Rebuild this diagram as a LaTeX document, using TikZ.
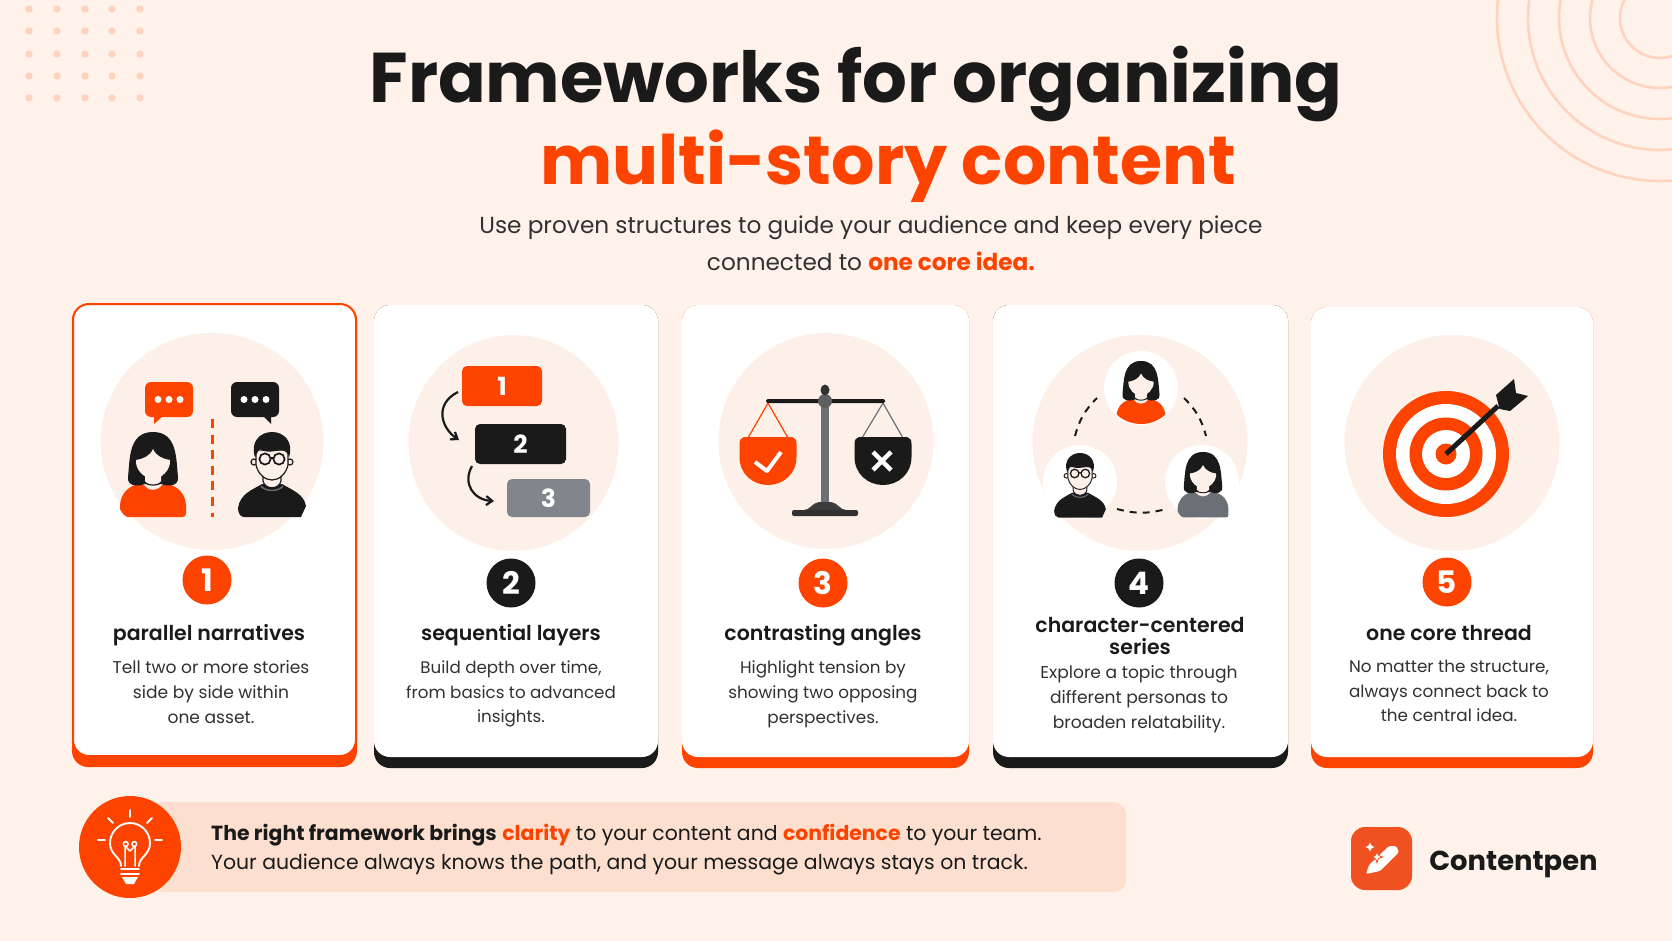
\documentclass[tikz,border=0pt]{standalone}
\usepackage{fontspec}
\setmainfont{Poppins}
\newfontfamily\semifont{Poppins}[UprightFont=* SemiBold]
\usetikzlibrary{arrows.meta,positioning,shapes.geometric}

\definecolor{paper}{HTML}{FEF2EA}
\definecolor{disc}{HTML}{FDF0E8}
\definecolor{accent}{HTML}{FC4300}
\definecolor{ink}{HTML}{1A1A1A}
\definecolor{slate}{HTML}{80868C}
\definecolor{graybody}{HTML}{6B7076}
\definecolor{deco}{HTML}{FFD3BE}
\definecolor{barfill}{HTML}{FDDFD0}
\definecolor{logofill}{HTML}{EF5220}

% person with long hair: x, y of the hair top, scale, shirt colour
\newcommand{\womanicon}[4]{
	\begin{scope}[shift={(#1,#2)}, scale=#3]
		\fill[#4] (-33,73) .. controls (-32,62) and (-26,56) .. (-18,53) -- (18,53) .. controls (26,56) and (32,62) .. (33,73) -- (33,81) .. controls (33,84) and (32,85) .. (29,85) -- (-25,85) .. controls (-28,85) and (-31,81) .. (-33,77) -- cycle;
		\fill[disc] (-10,51) .. controls (-6,60) and (6,60) .. (10,51) -- cycle;
		\fill[ink] (-25,45) .. controls (-23,28) and (-25,0) .. (0,0) .. controls (25,0) and (23,28) .. (25,45) .. controls (26,54) and (16,55) .. (8,52) -- (-8,52) .. controls (-16,55) and (-26,54) .. (-25,45) -- cycle;
		\fill[disc] (-8,38) -- (8,38) -- (8,50) .. controls (6,54) and (-6,54) .. (-8,50) -- cycle;
		\draw[ink, line width=#3*1.2pt] (-8,50) .. controls (-6,54) and (6,54) .. (8,50);
		\fill[disc] (-17,28) .. controls (-10,27) and (-3,24) .. (0,17) .. controls (3,24) and (10,27) .. (17,28) .. controls (18,38) and (8,47) .. (0,47) .. controls (-8,47) and (-18,38) .. (-17,28) -- cycle;
	\end{scope}
}
% person with short hair and glasses: x, y of the hair top, scale
\newcommand{\manicon}[3]{
	\begin{scope}[shift={(#1,#2)}, scale=#3]
		\fill[ink] (-34,76) .. controls (-32,62) and (-20,58) .. (-10,52) -- (10,52) .. controls (20,58) and (32,62) .. (34,74) -- (29,85) -- (-28,85) .. controls (-31,85) and (-34,82) .. (-34,76) -- cycle;
		\draw[graybody, line width=#3*1.4pt] (-11,54) .. controls (-6,60) and (6,60) .. (11,54);
		\filldraw[fill=disc, draw=ink, line width=#3*1.2pt] (-9,40) -- (-9,49) .. controls (-7,58) and (7,58) .. (9,49) -- (9,40);
		\filldraw[fill=disc, draw=ink, line width=#3*1.2pt] (-18,30) circle (3);
		\filldraw[fill=disc, draw=ink, line width=#3*1.2pt] (18,30) circle (3);
		\filldraw[fill=disc, draw=ink, line width=#3*1.2pt] (-16,18) -- (-16,33) .. controls (-14,42) and (-7,48) .. (0,48) .. controls (7,48) and (14,42) .. (16,33) -- (16,18) -- cycle;
		\fill[ink] (-17,25) .. controls (-22,10) and (-12,0) .. (0,0) .. controls (12,0) and (22,10) .. (17,25) .. controls (15,18) and (10,17) .. (4,19) .. controls (-2,20) and (-9,20) .. (-12,17) .. controls (-15,20) and (-15,22) .. (-17,25) -- cycle;
		\draw[ink, line width=#3*1.7pt] (-7,27) circle (5.6);
		\draw[ink, line width=#3*1.7pt] (7,27) circle (5.6);
		\draw[ink, line width=#3*1.7pt] (-1.4,26) -- (1.4,26);
	\end{scope}
}
% scale pan hanging from its top centre
\newcommand{\panshape}[3]{
	\fill[#3, shift={(#1,#2)}] (-24,0) -- (24,0) .. controls (27,0.5) and (28.5,3) .. (28.5,7) -- (28.5,20) .. controls (28.5,37) and (15,48) .. (0,48) .. controls (-15,48) and (-28.5,37) .. (-28.5,20) -- (-28.5,7) .. controls (-28.5,3) and (-27,0.5) .. (-24,0) -- cycle;
}
% four-pointed star of the logo
\newcommand{\sparkle}[3]{
	\filldraw[fill=white, draw=logofill, line width=.8pt, shift={(#1,#2)}, scale=#3] (0,-1) .. controls (.15,-.25) and (.25,-.15) .. (1,0) .. controls (.25,.15) and (.15,.25) .. (0,1) .. controls (-.15,.25) and (-.25,.15) .. (-1,0) .. controls (-.25,-.15) and (-.15,-.25) .. (0,-1) -- cycle;
}

\begin{document}
\begin{tikzpicture}[x=1pt, y=-1pt]
	\tikzstyle{headline}=[inner sep=0, text=ink, font=\fontsize{70.4}{76}\selectfont\bfseries]
	\tikzstyle{intro}=[inner sep=0, text=ink!90, font=\fontsize{23.2}{30}\selectfont]
	\tikzstyle{cardbase}=[rectangle, rounded corners=16pt, minimum width=285pt, minimum height=463pt, inner sep=0]
	\tikzstyle{cardface}=[rectangle, rounded corners=16pt, fill=white, minimum width=285pt, minimum height=452pt, inner sep=0]
	\tikzstyle{disc}=[ellipse, fill=disc, minimum width=215pt, minimum height=216pt, inner sep=0]
	\tikzstyle{badge}=[circle, minimum size=49pt, inner sep=0, text=white, font=\fontsize{31}{31}\selectfont\bfseries]
	\tikzstyle{cardtitle}=[inner sep=0, align=center, text=ink, font=\fontsize{20.5}{22}\semifont]
	\tikzstyle{cardtext}=[inner sep=0, align=center, text=ink!90, font=\fontsize{17.1}{24.8}\selectfont]
	\tikzstyle{bubble}=[rectangle, rounded corners=6pt, minimum width=48pt, minimum height=35pt, inner sep=0]
	\tikzstyle{bubbledot}=[circle, fill=white, minimum size=7pt, inner sep=0]
	\tikzstyle{layer}=[rectangle, rounded corners=5pt, inner sep=0, text=white, font=\fontsize{25}{25}\selectfont\bfseries]
	\tikzstyle{connect}=[ink, line width=2.2pt, -{Straight Barb[length=6pt,width=9pt]}]
	\tikzstyle{ring}=[circle, inner sep=0]
	\tikzstyle{whitespot}=[circle, fill=white, minimum size=74pt, inner sep=0]
	\tikzstyle{dashline}=[ink, line width=2pt, dash pattern=on 7pt off 6pt]
	\tikzstyle{bulbline}=[white, line width=1.9pt, line cap=round, line join=round]
	\tikzstyle{foot}=[inner sep=0, anchor=base west, text=ink, font=\fontsize{20.4}{24}\selectfont]

	\useasboundingbox (0,0) rectangle (1672,941);
	\fill[paper] (0,0) rectangle (1672,941);

	% corner decoration
	\foreach \dotx in {29,57,85,112,140}
		\foreach \doty in {9,31,54,76,98}
			\fill[deco] (\dotx,\doty) circle (3.7);
	\draw[deco, line width=2.6pt] (1660,18) circle (40);
	\draw[deco, line width=2.6pt] (1660,18) circle (70);
	\draw[deco, line width=2.6pt] (1660,18) circle (101);
	\draw[deco, line width=2.6pt] (1660,18) circle (132);
	\draw[deco, line width=2.6pt] (1660,18) circle (163);

	% heading
	\node[headline] (title1) at (856,84) {Frameworks for organizing};
	\node[headline, text=accent, font=\fontsize{68.2}{76}\selectfont\bfseries] (title2) at (888,166.5) {multi-story content};
	\node[intro] (sub1) at (871,228) {Use proven structures to guide your audience and keep every piece};
	\node[intro] (sub2) at (871,261) {connected to {\color{accent}\bfseries one core idea.}};

	% cards
	\node[cardbase, fill=accent] (base1) at (214.5,535.5) {};
	\node[cardface, draw=accent, line width=2pt, minimum width=283pt] (card1) at (214.5,530) {};
	\node[cardbase, fill=ink, minimum width=284pt] (base2) at (516,536.5) {};
	\node[cardface, minimum width=284pt] (card2) at (516,531) {};
	\node[cardbase, fill=accent, minimum width=287pt] (base3) at (825.5,536.5) {};
	\node[cardface, minimum width=287pt] (card3) at (825.5,531) {};
	\node[cardbase, fill=ink, minimum width=295pt] (base4) at (1140.5,536.5) {};
	\node[cardface, minimum width=295pt] (card4) at (1140.5,531) {};
	\node[cardbase, fill=accent, minimum width=282pt, minimum height=461pt] (base5) at (1452,537.5) {};
	\node[cardface, minimum width=282pt, minimum height=450pt] (card5) at (1452,532) {};

	\node[disc, minimum width=223pt, minimum height=217pt] (disc1) at (212,441.5) {};
	\node[disc, minimum width=210pt] (disc2) at (513.5,443) {};
	\node[disc] (disc3) at (826,441) {};
	\node[disc] (disc4) at (1140,443) {};
	\node[disc] (disc5) at (1452,443) {};

	% two people side by side
	\node[bubble, fill=accent] (bubble1) at (169,399.5) {};
	\node[bubble, fill=ink] (bubble2) at (255,399.5) {};
	\fill[accent] (154,416) -- (154,424) -- (163,416) -- cycle;
	\fill[ink] (263,416) -- (271,424) -- (271,416) -- cycle;
	\node[bubbledot] (d1) at (158,399.5) {};
	\node[bubbledot] (d2) at (169,399.5) {};
	\node[bubbledot] (d3) at (180,399.5) {};
	\node[bubbledot] (d4) at (244,399.5) {};
	\node[bubbledot] (d5) at (255,399.5) {};
	\node[bubbledot] (d6) at (266,399.5) {};
	\coordinate (split1) at (212,419);
	\coordinate (split2) at (212,517);
	\draw[accent, line width=3pt, dash pattern=on 9pt off 6.6pt] (split1) -- (split2);
	\womanicon{153}{432}{1}{accent}
	\manicon{272}{432}{1}

	% numbered layers
	\node[layer, fill=accent, minimum width=80pt, minimum height=40pt] (layer1) at (502,386) {1};
	\node[layer, fill=ink, minimum width=91pt, minimum height=40pt] (layer2) at (520.5,444) {2};
	\node[layer, fill=slate, minimum width=83pt, minimum height=38pt] (layer3) at (548.5,498) {3};
	\coordinate (from1) at (458,392);
	\coordinate (to1) at (459,440);
	\coordinate (from2) at (472,466);
	\coordinate (to2) at (494,501);
	\draw[connect] (from1) .. controls (434,404) and (441,428) .. (to1);
	\draw[connect] (from2) .. controls (462,484) and (474,500) .. (to2);

	% balance
	\draw[accent, line width=1.2pt] (748,438) -- (768,403) -- (788,438);
	\draw[graybody, line width=1.2pt] (862,438) -- (883,403) -- (903,438);
	\fill[graybody] (821,400) rectangle (829,503);
	\fill[ink!85] (804,510) .. controls (810,510) and (812,503) .. (819,502) -- (831,502) .. controls (838,503) and (840,510) .. (846,510) -- cycle;
	\fill[ink!90, rounded corners=2pt] (792,510) rectangle (858,516);
	\fill[ink, rounded corners=1.5pt] (766,399) rectangle (885,403);
	\fill[ink!70] (825,401) circle (7);
	\fill[ink!90] (825,390) ellipse (4.5 and 5.5);
	\panshape{768}{437}{accent}
	\panshape{883}{437}{ink}
	\draw[white, line width=4pt, line join=round] (755,462) -- (767,471) -- (781,452);
	\draw[white, line width=4.5pt] (873,452) -- (891,470);
	\draw[white, line width=4.5pt] (891,452) -- (873,470);

	% three people around a circle
	\node[whitespot] (spot1) at (1141,388) {};
	\node[whitespot] (spot2) at (1080,482) {};
	\node[whitespot] (spot3) at (1202,482) {};
	\begin{scope}
		\clip (1141,388) circle (36);
		\womanicon{1141}{361}{.74}{accent}
	\end{scope}
	\manicon{1080}{453}{.76}
	\womanicon{1203}{452}{.77}{graybody}
	\coordinate (arc1) at (1075,436);
	\coordinate (arc2) at (1097,398);
	\coordinate (arc3) at (1184,398);
	\coordinate (arc4) at (1206,436);
	\coordinate (arc5) at (1117,509);
	\coordinate (arc6) at (1166,509);
	\draw[dashline] (arc1) to[bend left=15] (arc2);
	\draw[dashline] (arc3) to[bend left=15] (arc4);
	\draw[dashline] (arc5) to[bend right=15] (arc6);

	% target with dart
	\node[ring, fill=accent, minimum size=126pt] (ring1) at (1446,454) {};
	\node[ring, fill=white, minimum size=100pt] (ring2) at (1446,454) {};
	\node[ring, fill=accent, minimum size=73pt] (ring3) at (1446,454) {};
	\node[ring, fill=white, minimum size=48pt] (ring4) at (1446,454) {};
	\node[ring, fill=accent, minimum size=21pt] (ring5) at (1446,454) {};
	\coordinate (dart) at (1498,406);
	\draw[ink, line width=5pt] (ring5.center) -- (dart);
	\fill[ink] (1496,395) -- (1514,379) -- (1516,393) -- (1528,396) -- (1510,411) -- (1499.5,409) -- cycle;

	% numbers and texts of the cards
	\node[badge, fill=accent] (num1) at (207,580) {1};
	\node[badge, fill=ink] (num2) at (511,583) {2};
	\node[badge, fill=accent] (num3) at (823,583) {3};
	\node[badge, fill=ink] (num4) at (1139,583) {4};
	\node[badge, fill=accent] (num5) at (1447,582) {5};

	\node[cardtitle, anchor=base] (head1) at (209,640) {parallel narratives};
	\node[cardtitle, anchor=base] (head2) at (511,640) {sequential layers};
	\node[cardtitle, anchor=base] (head3) at (823,640) {contrasting angles};
	\node[cardtitle] (head4) at (1140,636) {character-centered\\series};
	\node[cardtitle, anchor=base] (head5) at (1449,640) {one core thread};

	\node[cardtext] (text1) at (211,692) {Tell two or more stories\\side by side within\\one asset.};
	\node[cardtext, font=\fontsize{16.7}{24.8}\selectfont] (text2) at (511,694) {Build depth over time,\\from basics to advanced\\insights.};
	\node[cardtext, font=\fontsize{16.8}{24.8}\selectfont] (text3) at (823,694) {Highlight tension by\\showing two opposing\\perspectives.};
	\node[cardtext] (text4) at (1139,699) {Explore a topic through\\different personas to\\broaden relatability.};
	\node[cardtext, font=\fontsize{16.8}{24.8}\selectfont] (text5) at (1449,691) {No matter the structure,\\always connect back to\\the central idea.};

	% bottom bar
	\fill[barfill, rounded corners=12pt] (150,802) rectangle (1126,892);
	\node[circle, fill=accent, minimum size=102pt, inner sep=0] (lamp) at (130,847) {};
	\draw[bulbline] (121,866) .. controls (121,857) and (110,855) .. (110,843) .. controls (110,832) and (119,823) .. (130,823) .. controls (141,823) and (150,832) .. (150,843) .. controls (150,855) and (139,857) .. (139,866);
	\draw[bulbline] (130,810) -- (130,817);
	\draw[bulbline] (108,818) -- (113,823);
	\draw[bulbline] (152,818) -- (147,823);
	\draw[bulbline] (98,840) -- (105,840);
	\draw[bulbline] (155,840) -- (162,840);
	\draw[bulbline, line width=1.5pt] (125,866) -- (125,846) (135,866) -- (135,846) (125,846) -- (130,851) -- (135,846);
	\draw[bulbline, line width=1.5pt] (125.7,844) circle (2.4);
	\draw[bulbline, line width=1.5pt] (134.3,844) circle (2.4);
	\draw[bulbline] (121,869) -- (139,869);
	\draw[bulbline] (121,874) -- (139,874);
	\fill[white] (122,877) -- (138,877) -- (134,884) -- (126,884) -- cycle;

	\node[foot] (foot1) at (211,840) {{\bfseries The right framework brings} {\color{accent}\bfseries clarity} to your content and {\color{accent}\bfseries confidence} to your team.};
	\node[foot] (foot2) at (211,869) {Your audience always knows the path, and your message always stays on track.};

	% logo
	\node[rectangle, rounded corners=14pt, fill=logofill, minimum width=61pt, minimum height=63pt, inner sep=0] (logo) at (1381.5,858.5) {};
	\fill[white, rounded corners=1.5pt] (1366,874) -- (1369,865) -- (1389,846) -- (1396,846) -- (1399,852) -- (1380,871) -- cycle;
	\sparkle{1370}{847}{7}
	\sparkle{1377}{857}{6}
	\node[inner sep=0, text=ink, font=\fontsize{27.4}{31}\selectfont\bfseries] (brand) at (1513.5,864) {Contentpen};
\end{tikzpicture}
\end{document}
